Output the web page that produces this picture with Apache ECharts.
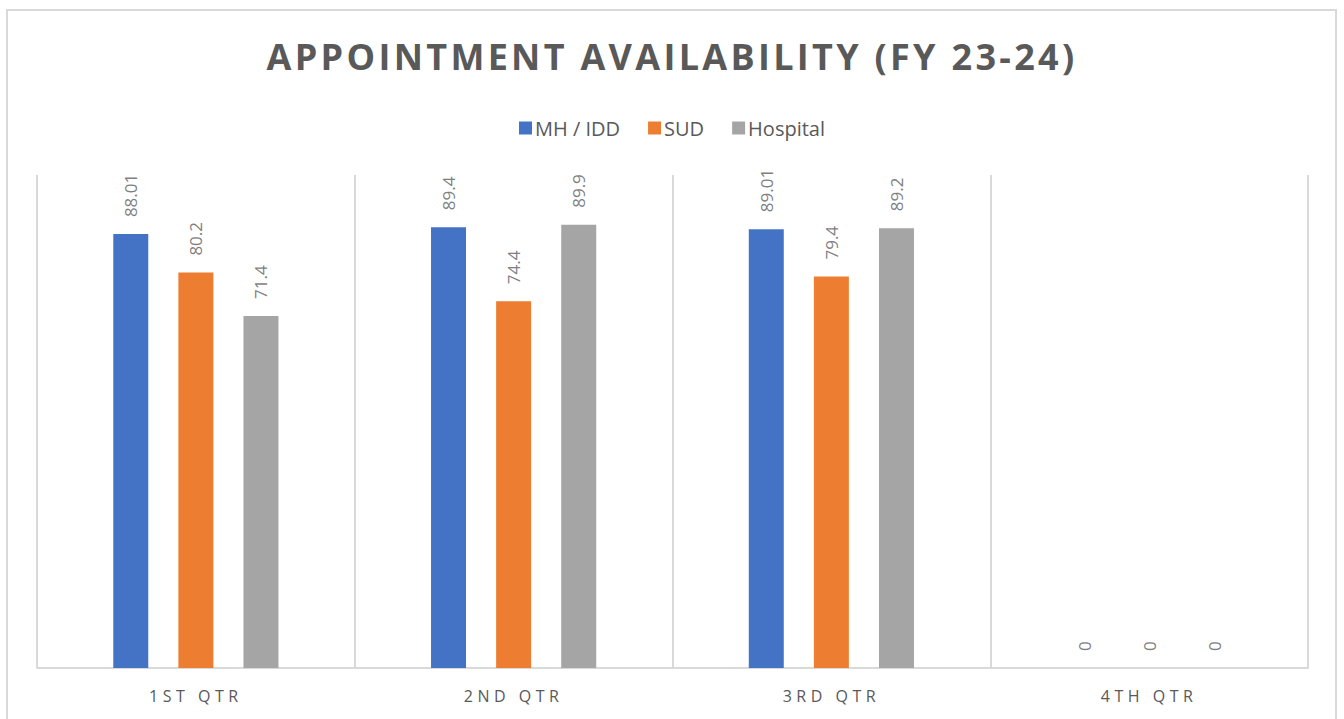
<!DOCTYPE html>
<html>
<head>
<meta charset="utf-8">
<script src="https://cdn.jsdelivr.net/npm/echarts@6/dist/echarts.min.js"></script>
<style>
  html, body { margin: 0; padding: 0; background: #fff; }
  #main { width: 1344px; height: 719px; }
</style>
</head>
<body>
<div id="main"></div>
<script>
// quarters and values
var quarters = ['1ST QTR', '2ND QTR', '3RD QTR', '4TH QTR'];
var mhIdd = [88.01, 89.4, 89.01, 0];
var sud = [80.2, 74.4, 79.4, 0];
var hospital = [71.4, 89.9, 89.2, 0];
var titleText = 'APPOINTMENT AVAILABILITY (FY 23-24)';

var labelStyle = {
  show: true,
  position: 'top',
  rotate: 90,
  align: 'left',
  verticalAlign: 'middle',
  distance: 17,
  color: '#7f7f7f',
  fontSize: 17,
  fontFamily: 'Open Sans'
};

var myChart = echarts.init(document.getElementById('main'), null, { renderer: 'svg' });
var option = {
  animation: false,
  backgroundColor: '#fff',
  textStyle: { fontFamily: 'Open Sans' },
  title: {
    text: titleText,
    left: 'center',
    top: 33,
    textStyle: { color: '#595959', fontSize: 36, fontWeight: 'bold', fontFamily: 'Open Sans' }
  },
  legend: {
    top: 113,
    left: 'center',
    itemWidth: 13,
    itemHeight: 13,
    itemGap: 28,
    icon: 'rect',
    textStyle: { color: '#595959', fontSize: 20, padding: [0, 0, 0, -2] },
    data: ['MH / IDD', 'SUD', 'Hospital']
  },
  grid: { left: 37, right: 36, top: 175, bottom: 51 },
  xAxis: {
    type: 'category',
    data: quarters,
    axisLine: { lineStyle: { color: '#d9d9d9', width: 2 } },
    axisTick: { show: false },
    splitLine: { show: true, lineStyle: { color: '#d9d9d9', width: 2 } },
    axisLabel: { color: '#595959', fontSize: 16, margin: 20 }
  },
  yAxis: { type: 'value', min: 0, max: 100, show: false },
  graphic: [{
    type: 'rect',
    shape: { x: 7, y: 10, width: 1329, height: 730 },
    style: { fill: 'none', stroke: '#d9d9d9', lineWidth: 2 },
    silent: true
  }],
  series: [
    { name: 'MH / IDD', type: 'bar', data: mhIdd, barWidth: 35, barGap: '86%', itemStyle: { color: '#4472c4' }, label: labelStyle },
    { name: 'SUD', type: 'bar', data: sud, barWidth: 35, barGap: '86%', itemStyle: { color: '#ed7d31' }, label: labelStyle },
    { name: 'Hospital', type: 'bar', data: hospital, barWidth: 35, barGap: '86%', itemStyle: { color: '#a5a5a5' }, label: labelStyle }
  ]
};
myChart.setOption(option);

// the original spreads the letters of the title and the quarter names
function spreadLetters() {
  var texts = document.querySelectorAll('#main text');
  for (var i = 0; i < texts.length; i++) {
    var t = texts[i].textContent;
    if (t === titleText) {
      texts[i].setAttribute('letter-spacing', '3.3');
    } else if (quarters.indexOf(t) >= 0) {
      texts[i].setAttribute('letter-spacing', '4.5');
    }
  }
}
myChart.on('finished', spreadLetters);
spreadLetters();
</script>
</body>
</html>
